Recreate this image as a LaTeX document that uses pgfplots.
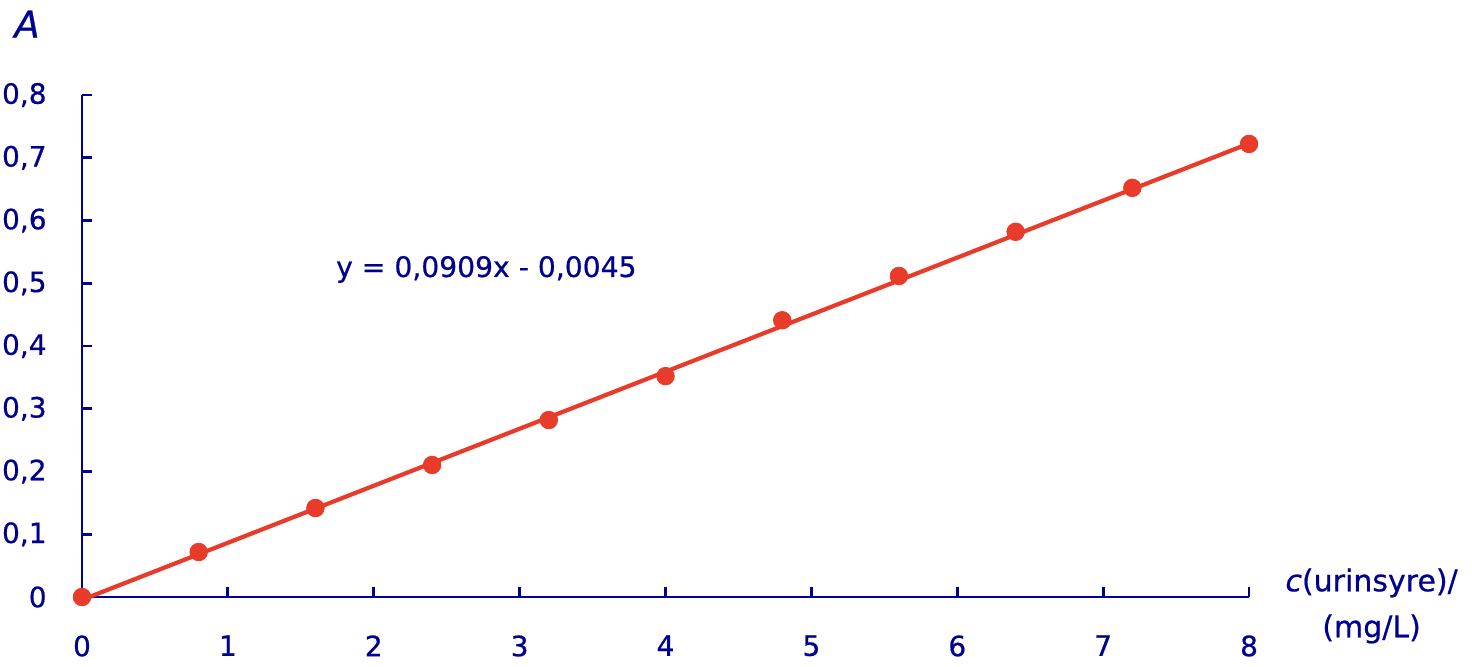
\documentclass[border=0pt]{standalone}
\usepackage{pgfplots}
\pgfplotsset{compat=1.18}
\usepackage{fontspec}
\setmainfont{DejaVu Sans}[FakeBold=0.6]

\definecolor{axblue}{RGB}{0,0,145}
\definecolor{ptred}{RGB}{233,59,42}

\begin{document}
\begin{tikzpicture}
  \begin{axis}[
      at={(0,0)}, anchor=origin,
      x=72.94pt, y=313.75pt,
      xmin=0, xmax=8, ymin=0, ymax=0.8,
      enlargelimits=false, clip=false,
      axis lines=left,
      axis line style={axblue, line width=1.4pt, -},
      every tick/.style={axblue, line width=1.4pt},
      tick align=inside,
      major tick length=5pt,
      xtick={0,1,...,8},
      ytick={0,0.1,...,0.8},
      tick label style={font=\fontsize{14}{16}\selectfont, text=axblue, inner sep=0pt},
      xticklabel style={anchor=north, yshift=-19pt},
      yticklabel style={anchor=east, xshift=-17.5pt},
      /pgf/number format/.cd, use comma, fixed, precision=1, assume math mode=true,
    ]
    % trendline
    \addplot[ptred, line width=2.1pt, no marks] coordinates {(0,-0.0045) (8,0.7227)};
    % measured points
    \addplot[only marks, mark=*, mark size=4.4pt, color=ptred,
             mark options={fill=ptred, draw=ptred}] coordinates {
      (0,0) (0.8,0.0717) (1.6,0.1418) (2.4,0.2104) (3.2,0.282) (4,0.352)
      (4.8,0.441) (5.6,0.5116) (6.4,0.582) (7.2,0.652) (8,0.722)
    };
    \node[text=axblue, font=\fontsize{18.5}{20}\selectfont\itshape] at (axis cs:-0.377,0.913) {A};
    \node[text=axblue, anchor=base, font=\fontsize{14.1}{16}\selectfont] at (axis cs:2.772,0.510) {y = 0,0909x - 0,0045};
    \node[text=axblue, align=center, font=\fontsize{15}{23}\selectfont] at (axis cs:8.84,-0.0143) {\textit{c}(urinsyre)/\\(mg/L)};
  \end{axis}
  \pgfresetboundingbox
  \useasboundingbox (-41pt,-34.5pt) rectangle (695pt,298.5pt);
\end{tikzpicture}
\end{document}
